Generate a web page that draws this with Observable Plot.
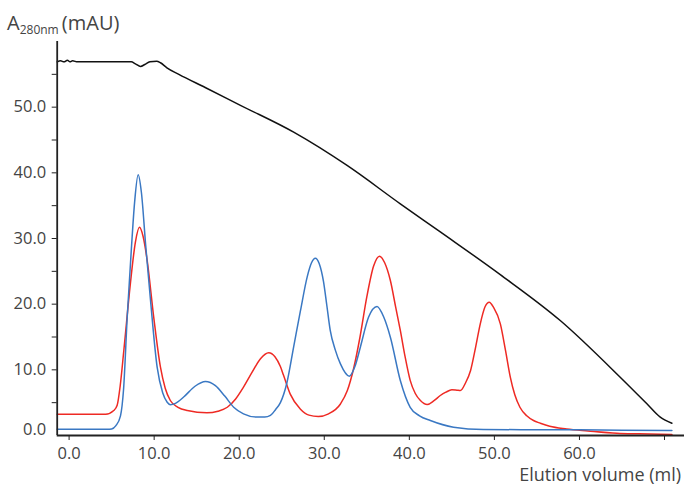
<!DOCTYPE html>
<html>
<head>
<meta charset="utf-8">
<script src="https://cdn.jsdelivr.net/npm/d3@7"></script>
<script src="https://cdn.jsdelivr.net/npm/@observablehq/plot@0.6"></script>
<style>
  html, body { margin: 0; padding: 0; background: #fff; }
  #chart svg { display: block; }
</style>
</head>
<body>
<div id="chart"></div>
<script>
// Elution volume (ml), A280 (mAU) pairs
const blueTrace = [
  [-1.4,0.95],[4.5,0.95],[5.0,1.0],[5.5,1.5],[6.04,3.0],[6.4,7],[6.83,18.0],[7.3,28],[7.7,35.5],[8.12,39.7],
  [8.5,37],[9.0,29],[9.57,20.6],[10.35,10.4],[11.0,6.5],[11.53,5.07],[11.9,4.7],[12.5,4.9],[13.5,5.9],
  [14.8,7.5],[16.03,8.22],[17.2,7.6],[18.3,6.0],[19.35,4.3],[20.5,3.3],[22.1,2.8],[23.0,2.8],[23.67,3.05],
  [24.3,4.0],[24.84,5.0],[25.6,8.0],[26.4,13.5],[27.2,19.0],[28.0,24.2],[28.5,26.3],[28.95,27.0],[29.4,26.2],
  [29.9,23.5],[30.3,19.8],[30.7,16.0],[31.3,13.0],[31.9,10.9],[32.95,9.03],[33.6,10.5],[34.24,13.45],[35.2,18],
  [36.2,19.65],[37.0,18],[37.77,14.97],[38.94,8.38],[40.1,4.3],[41.2,3.0],[42.47,2.28],[45.2,1.27],[48.7,0.91],
  [55,0.88],[60,0.86],[65,0.8],[70.87,0.76]
];
const redTrace = [
  [-1.4,3.24],[4.3,3.24],[5.25,3.8],[5.65,4.6],[6.0,7.5],[6.43,12.9],[7.2,23.1],[7.8,29.5],[8.27,31.7],[8.7,30.3],
  [9.18,26.65],[9.95,18.0],[10.74,10.4],[11.3,7.2],[11.9,5.33],[12.8,4.3],[13.9,3.8],[16.2,3.45],[17.5,3.7],
  [18.6,4.3],[19.6,5.6],[20.5,7.36],[21.5,9.6],[22.5,11.7],[23.47,12.6],[24.2,12.0],[24.84,10.5],[25.2,9.2],
  [26.0,6.3],[27.2,4.0],[28.2,3.1],[29.3,2.9],[30.5,3.3],[31.9,4.8],[32.7,6.8],[33.45,10.2],[34.2,15],[35.0,21.1],
  [35.8,25.8],[36.5,27.3],[37.1,26.3],[37.77,23.6],[38.4,19.5],[38.94,16.0],[39.5,12],[40.1,8.4],[40.7,6.4],
  [41.3,5.33],[42.1,4.72],[42.9,5.3],[43.64,6.09],[44.3,6.6],[45.0,6.96],[45.6,6.9],[46.0,6.85],[46.6,8.0],
  [47.2,9.9],[47.8,13.5],[48.34,17.0],[48.9,19.6],[49.4,20.3],[49.9,19.5],[50.7,17.0],[51.3,13],[51.87,8.9],
  [52.4,6.2],[53.0,4.3],[53.8,3.0],[54.6,2.28],[55.4,1.87],[56.5,1.4],[58.5,1.0],[61,0.7],[64.4,0.35],[67,0.25],[70.87,0.15]
];
const blackTrace = [
  [-1.4,56.9],[-1.0,57.05],[-0.6,56.9],[-0.2,57.15],[0.1,56.9],[0.4,57.05],[1,56.9],[7.3,56.9],[7.8,56.6],
  [8.4,56.2],[8.9,56.5],[9.5,56.9],[10.3,57.0],[10.74,56.76],[11.5,56.0],[12.9,55.0],[16,53.0],[20.14,50.28],
  [26.4,46.19],[32.68,41.12],[38.94,35.28],[43.64,31.0],[50.69,24.5],[57.74,17.51],[64.79,8.88],
  [67.93,4.83],[69.5,2.79],[70.87,1.87]
];
const xTicks = [0, 10, 20, 30, 40, 50, 60, 70];
const yTicks = [5, 10, 15, 20, 25, 30, 35, 40, 45, 50, 55];
const yLabelTicks = [10, 20, 30, 40, 50];
const xDomain = [-1.4, 72.35];
const yDomain = [0, 60];

const toRows = (arr) => arr.map(([x, y]) => ({x, y}));
const fmt = d => d.toFixed(1);
const axisColor = "#222";
const textColor = "#444";

const plot = Plot.plot({
  width: 684,
  height: 487,
  marginLeft: 56.7,
  marginRight: 0,
  marginTop: 41,
  marginBottom: 52,
  style: {fontFamily: "'Open Sans', sans-serif", fontSize: "16.5px", color: textColor, background: "#fff", overflow: "visible"},
  x: {domain: xDomain},
  y: {domain: yDomain},
  marks: [
    Plot.line(toRows(blackTrace), {x: "x", y: "y", stroke: "#111", strokeWidth: 1.5, curve: "monotone-x"}),
    Plot.line(toRows(redTrace), {x: "x", y: "y", stroke: "#ee2a24", strokeWidth: 1.5, curve: "monotone-x"}),
    Plot.line(toRows(blueTrace), {x: "x", y: "y", stroke: "#3a78c3", strokeWidth: 1.5, curve: "monotone-x"}),
    Plot.ruleY([0], {stroke: axisColor, strokeWidth: 1.8}),
    Plot.ruleX([xDomain[0]], {stroke: axisColor, strokeWidth: 1.8}),
    Plot.axisX({ticks: xTicks, tickSize: 5, tickPadding: 7, tickFormat: d => d === 70 ? "" : fmt(d), label: null, stroke: axisColor, fill: textColor}),
    Plot.axisY({ticks: yTicks, tickSize: 5, tickPadding: 6, tickFormat: d => yLabelTicks.includes(d) ? fmt(d) : "", label: null, stroke: axisColor, fill: textColor}),
    Plot.text([0], {x: xDomain[0], y: d => d, text: d => fmt(d), dx: -11, dy: -6, textAnchor: "end", fill: textColor})
  ]
});

const svg = d3.select(plot);
const ylab = svg.append("text")
  .attr("x", 7).attr("y", 30)
  .attr("text-anchor", "start")
  .attr("fill", textColor)
  .attr("font-family", "'Open Sans', sans-serif")
  .attr("font-size", 20);
ylab.append("tspan").text("A");
ylab.append("tspan").attr("font-size", 12).attr("dy", 4).text("280nm ");
ylab.append("tspan").attr("dy", -4).text("(mAU)");

svg.append("text")
  .attr("x", 681).attr("y", 481)
  .attr("text-anchor", "end")
  .attr("fill", textColor)
  .attr("font-family", "'Open Sans', sans-serif")
  .attr("font-size", 18)
  .text("Elution volume (ml)");

document.getElementById("chart").appendChild(plot);
</script>
</body>
</html>
